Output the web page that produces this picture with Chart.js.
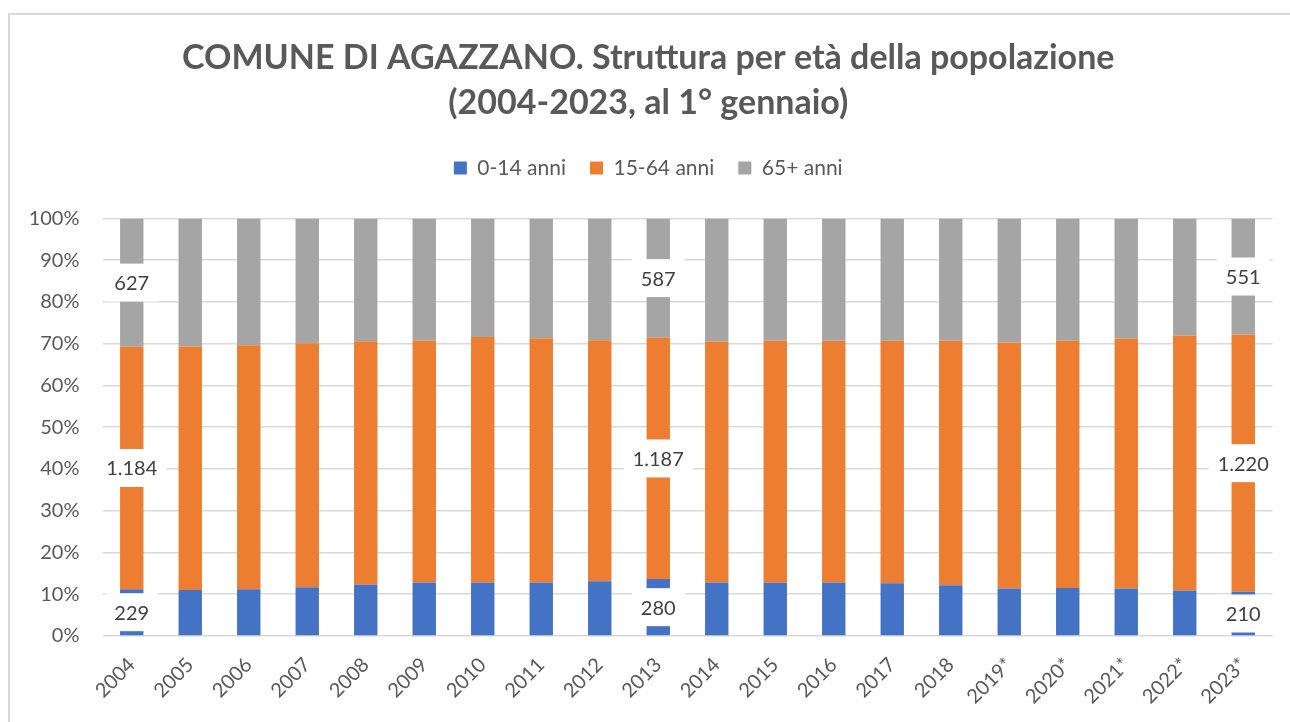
<!DOCTYPE html>
<html lang="it">
<head>
<meta charset="utf-8">
<title>Agazzano - struttura per età</title>
<script src="https://cdn.jsdelivr.net/npm/chart.js@4/dist/chart.umd.min.js"></script>
<style>
  html, body { margin: 0; padding: 0; background: #fff; overflow: hidden; }
  #wrap { position: absolute; left: 0; top: 0; width: 1290px; height: 722px; }
  #frame {
    position: absolute; left: 8px; top: 13px; width: 1400px; height: 800px;
    border-left: 2px solid #d9d9d9; border-top: 2px solid #d9d9d9;
  }
</style>
</head>
<body>
<div id="wrap">
  <div id="frame"></div>
  <canvas id="chart" width="1290" height="722"></canvas>
</div>
<script>
const years = ["2004", "2005", "2006", "2007", "2008", "2009", "2010", "2011", "2012", "2013",
  "2014", "2015", "2016", "2017", "2018", "2019*", "2020*", "2021*", "2022*", "2023*"];
const age0to14 = [229, 227, 232, 243, 257, 268, 266, 265, 270, 280,
  264, 262, 261, 256, 246, 229, 230, 227, 217, 210];
const age15to64 = [1184, 1201, 1209, 1215, 1218, 1211, 1223, 1211, 1189, 1187,
  1189, 1188, 1181, 1179, 1182, 1184, 1184, 1193, 1214, 1220];
const age65plus = [627, 632, 629, 622, 615, 611, 591, 594, 601, 587,
  607, 600, 598, 595, 592, 597, 586, 575, 559, 551];
const labelledYears = ["2004", "2013", "2023*"];

const totals = years.map((y, i) => age0to14[i] + age15to64[i] + age65plus[i]);
function share(arr) {
  return arr.map((v, i) => (v / totals[i]) * 100);
}

// numbers with the dot as thousands separator, like 1.184
function fmt(n) {
  return String(n).replace(/\B(?=(\d{3})+(?!\d))/g, ".");
}

const FONT = "Lato, 'Open Sans', sans-serif";
const GREY_TEXT = "#595959";

// white boxed counts in the middle of the segments of a few bars
const boxLabels = {
  id: "boxLabels",
  afterDatasetsDraw(chart) {
    const ctx = chart.ctx;
    ctx.save();
    ctx.font = "20px " + FONT;
    ctx.textAlign = "center";
    ctx.textBaseline = "middle";
    chart.data.datasets.forEach((ds, d) => {
      const meta = chart.getDatasetMeta(d);
      labelledYears.forEach((yr) => {
        const i = years.indexOf(yr);
        const bar = meta.data[i];
        const txt = fmt(ds.counts[i]);
        const cy = (bar.y + bar.base) / 2;
        const w = ctx.measureText(txt).width + 18;
        const h = 38;
        ctx.fillStyle = "#ffffff";
        ctx.fillRect(bar.x - w / 2, cy - h / 2, w, h);
        ctx.fillStyle = "#404040";
        ctx.fillText(txt, bar.x, cy + 1);
      });
    });
    ctx.restore();
  },
};

// extra room between the legend and the plot
const legendGap = {
  id: "legendGap",
  beforeInit(chart) {
    const fit = chart.legend.fit;
    chart.legend.fit = function () {
      fit.bind(chart.legend)();
      this.height += 30;
    };
  },
};

new Chart(document.getElementById("chart"), {
  type: "bar",
  data: {
    labels: years,
    datasets: [
      { label: "0-14 anni", data: share(age0to14), counts: age0to14, backgroundColor: "#4472c4" },
      { label: "15-64 anni", data: share(age15to64), counts: age15to64, backgroundColor: "#ed7d31" },
      { label: "65+ anni", data: share(age65plus), counts: age65plus, backgroundColor: "#a5a5a5" },
    ],
  },
  options: {
    responsive: false,
    animation: false,
    datasets: { bar: { barPercentage: 0.4, categoryPercentage: 1 } },
    layout: { padding: { left: 24, right: 17.5, top: 35, bottom: 0 } },
    plugins: {
      title: {
        display: true,
        text: ["COMUNE DI AGAZZANO. Struttura per età della popolazione", "(2004-2023, al 1° gennaio)"],
        color: GREY_TEXT,
        font: { family: FONT, size: 34, weight: "bold", lineHeight: 1.33 },
        padding: { top: 0, bottom: 8 },
      },
      legend: {
        position: "top",
        labels: {
          color: GREY_TEXT,
          font: { family: FONT, size: 21 },
          boxWidth: 13,
          boxHeight: 13,
          padding: 24,
        },
      },
      tooltip: { enabled: false },
    },
    scales: {
      x: {
        stacked: true,
        grid: { display: false },
        border: { display: false },
        ticks: {
          color: GREY_TEXT,
          font: { family: FONT, size: 20 },
          minRotation: 45,
          maxRotation: 45,
          padding: 9,
        },
        afterFit(scale) { scale.height = 86; },
      },
      y: {
        stacked: true,
        min: 0,
        max: 100,
        grid: { color: "#d9d9d9", lineWidth: 1.5, drawTicks: false },
        border: { display: false },
        ticks: {
          stepSize: 10,
          color: GREY_TEXT,
          font: { family: FONT, size: 20 },
          padding: 23,
          callback: (v) => v + "%",
        },
        afterFit(scale) { scale.width = 78.5; },
      },
    },
  },
  plugins: [boxLabels, legendGap],
});
</script>
</body>
</html>
